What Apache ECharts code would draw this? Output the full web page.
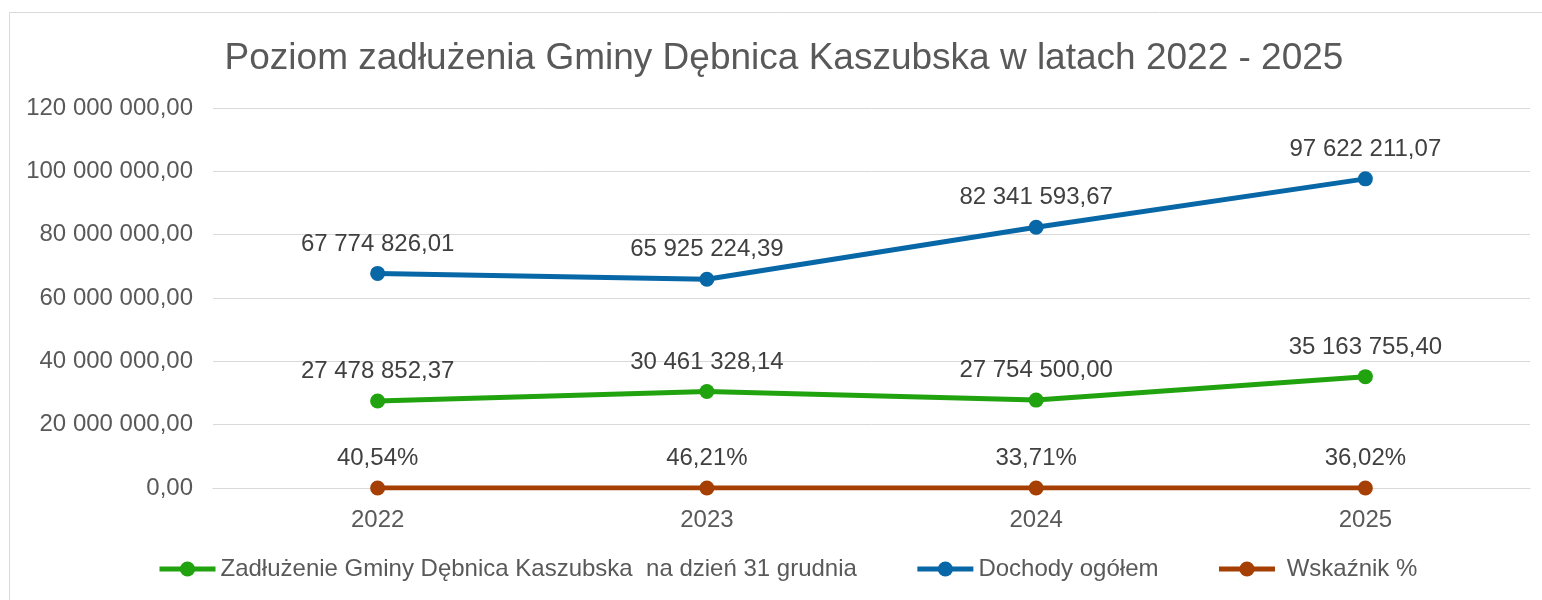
<!DOCTYPE html>
<html>
<head>
<meta charset="utf-8">
<script src="https://cdn.jsdelivr.net/npm/echarts@6/dist/echarts.min.js"></script>
<style>
  html, body { margin: 0; padding: 0; background: #fff; }
  #chart { width: 1542px; height: 600px; }
</style>
</head>
<body>
<div id="chart"></div>
<script>
// data
const years = ['2022', '2023', '2024', '2025'];
const debt = [27478852.37, 30461328.14, 27754500.00, 35163755.40];
const income = [67774826.01, 65925224.39, 82341593.67, 97622211.07];
const ratio = [0.4054, 0.4621, 0.3371, 0.3602];

const debtName = 'Zadłużenie Gminy Dębnica Kaszubska  na dzień 31 grudnia';
const incomeName = 'Dochody ogółem';
const ratioName = ' Wskaźnik %';

function plNumber(v) {
  const parts = v.toFixed(2).split('.');
  return parts[0].replace(/\B(?=(\d{3})+(?!\d))/g, ' ') + ',' + parts[1];
}
function plPercent(v) {
  return (v * 100).toFixed(2).replace('.', ',') + '%';
}

const font = 'Liberation Sans, Arial, sans-serif';

function lineSeries(name, data, color, fmt) {
  return {
    name: name,
    type: 'line',
    data: data,
    symbol: 'circle',
    symbolSize: 15,
    lineStyle: { width: 5, color: color },
    itemStyle: { color: color },
    label: {
      show: true,
      position: 'top',
      distance: 10,
      color: '#404040',
      fontFamily: font,
      fontSize: 24,
      formatter: p => fmt(p.value)
    }
  };
}

const chart = echarts.init(document.getElementById('chart'));
chart.setOption({
  animation: false,
  title: {
    text: 'Poziom zadłużenia Gminy Dębnica Kaszubska w latach 2022 - 2025',
    left: 779,
    top: 35,
    textAlign: 'center',
    textStyle: { color: '#595959', fontFamily: font, fontSize: 37, fontWeight: 'normal' }
  },
  graphic: [{
    type: 'rect',
    shape: { x: 9.5, y: 12.5, width: 1600, height: 700 },
    style: { fill: 'none', stroke: '#d9d9d9', lineWidth: 1 },
    silent: true
  }],
  legend: {
    left: 157,
    top: 557,
    padding: 0,
    itemWidth: 56,
    itemHeight: 19,
    itemGap: 58,
    data: [debtName, incomeName, ratioName],
    lineStyle: { width: 5 },
    textStyle: { color: '#595959', fontFamily: font, fontSize: 24 }
  },
  grid: { left: 213, right: 12, top: 108, bottom: 112 },
  xAxis: {
    type: 'category',
    data: years,
    boundaryGap: true,
    axisLine: { lineStyle: { color: '#d9d9d9', width: 1 } },
    axisTick: { show: false },
    axisLabel: { color: '#595959', fontFamily: font, fontSize: 24, margin: 20 }
  },
  yAxis: {
    type: 'value',
    min: 0,
    max: 120000000,
    interval: 20000000,
    axisLine: { show: false },
    axisTick: { show: false },
    splitLine: { lineStyle: { color: '#d9d9d9', width: 1 } },
    axisLabel: { color: '#595959', fontFamily: font, fontSize: 24, margin: 20, formatter: v => plNumber(v) }
  },
  series: [
    lineSeries(debtName, debt, '#21a20f', plNumber),
    lineSeries(incomeName, income, '#0867a6', plNumber),
    lineSeries(ratioName, ratio, '#a53f03', plPercent)
  ]
});
</script>
</body>
</html>
